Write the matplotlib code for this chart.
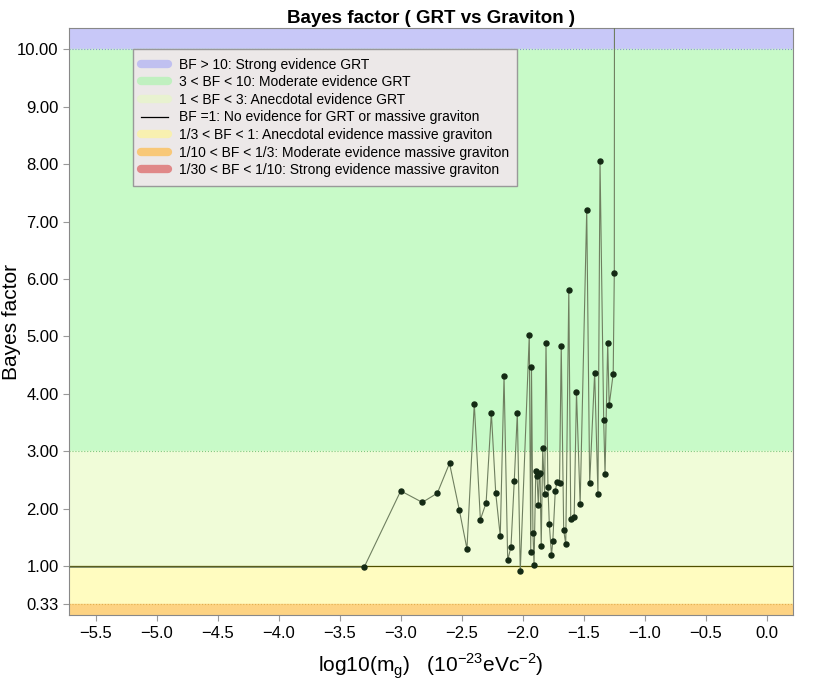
import matplotlib
matplotlib.use('Agg')
import matplotlib.pyplot as plt
from matplotlib.lines import Line2D
from matplotlib.ticker import FormatStrFormatter

# log10 of graviton mass (1e-23 eV/c^2) and Bayes factor
log_mg = [-6.0, -3.30, -3.00, -2.823, -2.70, -2.60, -2.52, -2.457, -2.397, -2.347,
          -2.30, -2.257, -2.221, -2.184, -2.153, -2.123, -2.096, -2.069, -2.044,
          -2.020, -1.946, -1.934, -1.928, -1.916, -1.907, -1.893, -1.883, -1.872,
          -1.864, -1.858, -1.848, -1.836, -1.820, -1.809, -1.793, -1.782, -1.764,
          -1.753, -1.733, -1.719, -1.698, -1.684, -1.664, -1.647, -1.622, -1.606,
          -1.578, -1.559, -1.529, -1.475, -1.451, -1.410, -1.383, -1.366, -1.336,
          -1.325, -1.303, -1.291, -1.258, -1.249, -1.239]
bayes = [0.98, 0.98, 2.31, 2.11, 2.27, 2.79, 1.98, 1.30, 3.83, 1.81,
         2.10, 3.67, 2.27, 1.52, 4.31, 1.10, 1.34, 2.49, 3.67,
         0.91, 5.03, 1.25, 4.47, 1.58, 1.02, 2.65, 2.57, 2.06,
         2.61, 2.63, 1.35, 3.05, 2.25, 4.89, 2.38, 1.74, 1.19,
         1.44, 2.31, 2.46, 2.44, 4.84, 1.63, 1.38, 5.80, 1.82,
         1.85, 4.03, 2.08, 7.21, 2.44, 4.37, 2.25, 8.05, 3.54,
         2.61, 4.89, 3.80, 4.35, 6.10, 40.0]

yticks = [1/3, 1, 2, 3, 4, 5, 6, 7, 8, 9, 10]
xticks = [-5.5, -5.0, -4.5, -4.0, -3.5, -3.0, -2.5, -2.0, -1.5, -1.0, -0.5, 0.0]

band_labels = ['BF > 10: Strong evidence GRT',
               '3 < BF < 10: Moderate evidence GRT',
               '1 < BF < 3: Anecdotal evidence GRT',
               'BF =1: No evidence for GRT or massive graviton',
               '1/3 < BF < 1: Anecdotal evidence massive graviton',
               '1/10 < BF < 1/3: Moderate evidence massive graviton',
               '1/30 < BF < 1/10: Strong evidence massive graviton']

plt.rcParams['font.family'] = ['Liberation Sans', 'DejaVu Sans']

fig = plt.figure(figsize=(8.22, 6.85), dpi=100)
ax = fig.add_axes([0.0839, 0.102, 0.8811, 0.857])
ymin, ymax = 0.146, 10.37
ax.set_xlim(-5.72, 0.218)
ax.set_ylim(ymin, ymax)

# evidence bands
ax.axhspan(10, ymax, color='#c8c8f8', zorder=0)
ax.axhspan(3, 10, color='#c8fac8', zorder=0)
ax.axhspan(1, 3, color='#f0fcd8', zorder=0)
ax.axhspan(1/3, 1, color='#fffcc0', zorder=0)
ax.axhspan(0.1, 1/3, color='#fdd383', zorder=0)
ax.axhline(10, color='#9090d8', lw=0.8, ls=':', zorder=1)
ax.axhline(3, color='#80c880', lw=0.8, ls=':', zorder=1)
ax.axhline(1/3, color='#e0b050', lw=0.8, ls=':', zorder=1)
ax.axhline(1, color='#505000', lw=0.9, zorder=2)

ax.plot(log_mg, bayes, color='#6f7f60', lw=0.8, zorder=3)
ax.plot(log_mg[1:], bayes[1:], 'o', color='#142a14', ms=3.6, zorder=4)

ax.set_xticks(xticks)
ax.set_yticks(yticks)
ax.yaxis.set_major_formatter(FormatStrFormatter('%0.2f'))
ax.tick_params(labelsize=12, color='#999999', length=4)
for s in ax.spines.values():
	s.set_color('#888888')

ax.set_title('Bayes factor ( GRT vs Graviton )', fontsize=13.5, fontweight='bold', pad=4)
ax.set_ylabel('Bayes factor', fontsize=15)
ax.yaxis.set_label_coords(-0.066, 0.5)
ax.set_xlabel(r'log10(m$_\mathregular{g}$)   (10$^\mathregular{-23}$eVc$^\mathregular{-2}$)',
              fontsize=15, labelpad=8)

handles = [Line2D([], [], color=c, lw=6, solid_capstyle='round')
           for c in ['#c0c0f0', '#c0f0c0', '#e8f2d0']]
handles.append(Line2D([], [], color='black', lw=0.9))
handles += [Line2D([], [], color=c, lw=6, solid_capstyle='round')
            for c in ['#f8f0b0', '#f8c878', '#e08888']]
leg = ax.legend(handles, band_labels, loc='upper left', bbox_to_anchor=(0.0884, 0.964),
                borderaxespad=0, fontsize=10, handlelength=1.9, handletextpad=0.8,
                labelspacing=0.26, fancybox=False, framealpha=1, borderpad=0.6)
leg.get_frame().set_facecolor('#ece8e8')
leg.get_frame().set_edgecolor('#999999')
leg.set_zorder(5)

fig.savefig('out.png', dpi=100)
